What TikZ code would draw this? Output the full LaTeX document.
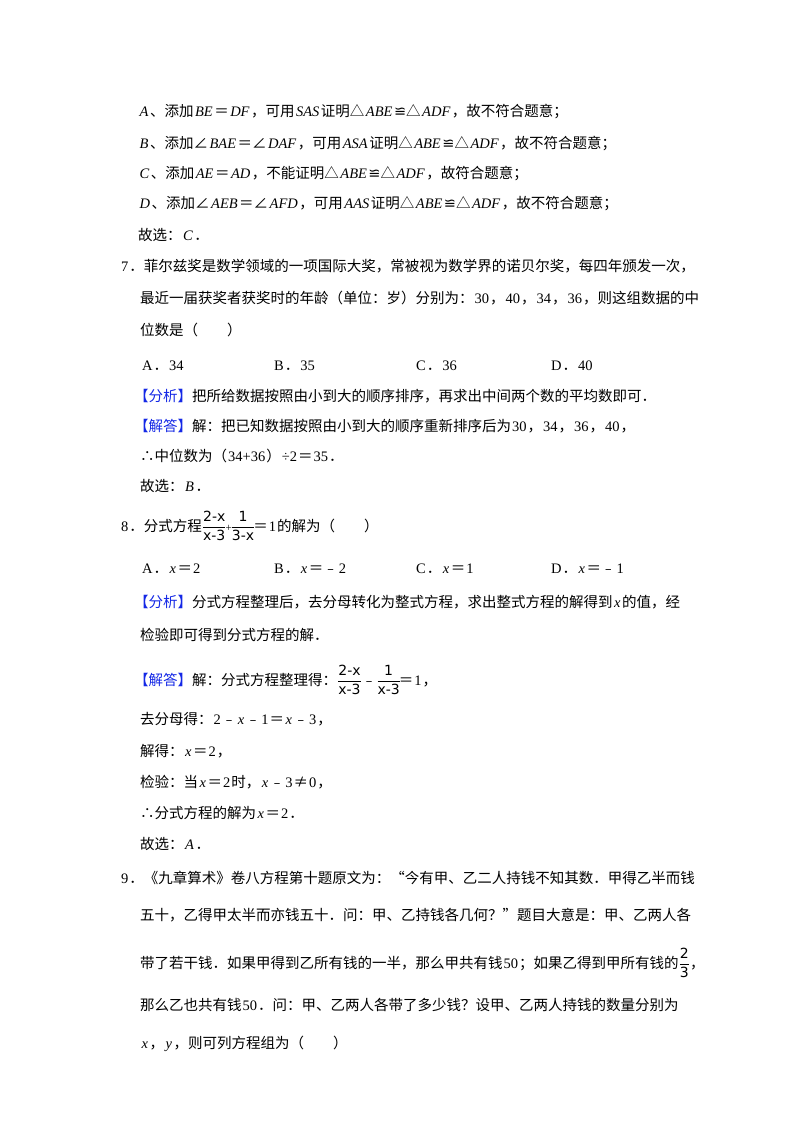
\documentclass[tikz,border=0pt]{standalone}
\usepackage{fontspec}
\setmainfont{Noto Sans CJK SC}
\newfontfamily\lib{Liberation Serif}
\newfontfamily\djv{DejaVu Sans}
\newcommand\I[1]{{\kern1.5pt\lib\itshape #1\kern1.5pt}}
\newcommand\N[1]{{\kern1pt\lib #1\kern1pt}}
\newcommand\CG{{\djv ≌}}
\newcommand\fracx[2]{\ensuremath{\displaystyle\frac{\hbox{\djv\fontsize{14}{15}\selectfont #1}}{\hbox{\djv\fontsize{14}{15}\selectfont #2}}}}
\definecolor{tagblue}{RGB}{20,40,230}
\newcommand\tag[1]{{\color{tagblue}【#1】}}
\begin{document}
\begin{tikzpicture}[x=1pt,y=-1pt,
  ln/.style={anchor=base west,inner sep=0pt,font=\fontsize{14.5}{16}\selectfont}]
\useasboundingbox[fill=white] (0,0) rectangle (800,1132);
\node[ln] (a1) at (138,116) {\I{A}、添加\I{BE}＝\I{DF}，可用\I{SAS}证明△\I{ABE}\CG△\I{ADF}，故不符合题意；};
\node[ln] (a2) at (138,148) {\I{B}、添加∠\I{BAE}＝∠\I{DAF}，可用\I{ASA}证明△\I{ABE}\CG△\I{ADF}，故不符合题意；};
\node[ln] (a3) at (138,178) {\I{C}、添加\I{AE}＝\I{AD}，不能证明△\I{ABE}\CG△\I{ADF}，故符合题意；};
\node[ln] (a4) at (138,208) {\I{D}、添加∠\I{AEB}＝∠\I{AFD}，可用\I{AAS}证明△\I{ABE}\CG△\I{ADF}，故不符合题意；};
\node[ln] (a5) at (138,240) {故选：\I{C}．};
\node[ln] (q7) at (120,271) {\N{7}．菲尔兹奖是数学领域的一项国际大奖，常被视为数学界的诺贝尔奖，每四年颁发一次，};
\node[ln] (q7b) at (140,303) {最近一届获奖者获奖时的年龄（单位：岁）分别为：\N{30}，\N{40}，\N{34}，\N{36}，则这组数据的中};
\node[ln] (q7c) at (140,335) {位数是（　　）};
\node[ln] (o7a) at (141,370) {\N{A}．\N{34}};
\node[ln] (o7b) at (273,370) {\N{B}．\N{35}};
\node[ln] (o7c) at (415,370) {\N{C}．\N{36}};
\node[ln] (o7d) at (550,370) {\N{D}．\N{40}};
\node[ln] (f7) at (134,401) {\tag{分析}把所给数据按照由小到大的顺序排序，再求出中间两个数的平均数即可．};
\node[ln] (s7) at (134,431) {\tag{解答}解：把已知数据按照由小到大的顺序重新排序后为\N{30}，\N{34}，\N{36}，\N{40}，};
\node[ln] (s7b) at (140,461) {∴中位数为（\N{34+36}）\N{÷2}＝\N{35}．};
\node[ln] (s7c) at (140,491) {故选：\I{B}．};
\node[ln] (q8) at (120,531) {\N{8}．分式方程\fracx{2-x}{x-3}\kern-1pt{\lib\fontsize{11}{12}\selectfont +}\kern-1pt\fracx{1}{3-x}\kern-2pt＝\N{1}的解为（　　）};
\node[ln] (o8a) at (141,573) {\N{A}．\I{x}＝\N{2}};
\node[ln] (o8b) at (273,573) {\N{B}．\I{x}＝﹣\N{2}};
\node[ln] (o8c) at (415,573) {\N{C}．\I{x}＝\N{1}};
\node[ln] (o8d) at (550,573) {\N{D}．\I{x}＝﹣\N{1}};
\node[ln] (f8) at (134,607) {\tag{分析}分式方程整理后，去分母转化为整式方程，求出整式方程的解得到\I{x}的值，经};
\node[ln] (f8b) at (140,640) {检验即可得到分式方程的解．};
\node[ln] (s8) at (134,685) {\tag{解答}解：分式方程整理得：\fracx{2-x}{x-3}﹣\fracx{1}{x-3}\kern-2pt＝\N{1}，};
\node[ln] (s8b) at (140,724) {去分母得：\N{2}﹣\I{x}﹣\N{1}＝\I{x}﹣\N{3}，};
\node[ln] (s8c) at (140,756) {解得：\I{x}＝\N{2}，};
\node[ln] (s8d) at (140,787) {检验：当\I{x}＝\N{2}时，\I{x}﹣\N{3}≠\N{0}，};
\node[ln] (s8e) at (140,818) {∴分式方程的解为\I{x}＝\N{2}．};
\node[ln] (s8f) at (140,849) {故选：\I{A}．};
\node[ln] (q9) at (120,883) {\N{9}．《九章算术》卷八方程第十题原文为：“今有甲、乙二人持钱不知其数．甲得乙半而钱};
\node[ln] (q9b) at (140,920) {五十，乙得甲太半而亦钱五十．问：甲、乙持钱各几何？”题目大意是：甲、乙两人各};
\node[ln] (q9c) at (140,968) {带了若干钱．如果甲得到乙所有钱的一半，那么甲共有钱\N{50}；如果乙得到甲所有钱的\fracx{2}{3}，};
\node[ln] (q9d) at (140,1010) {那么乙也共有钱\N{50}．问：甲、乙两人各带了多少钱？设甲、乙两人持钱的数量分别为};
\node[ln] (q9e) at (140,1048) {\I{x}，\I{y}，则可列方程组为（　　）};
\end{tikzpicture}
\end{document}
